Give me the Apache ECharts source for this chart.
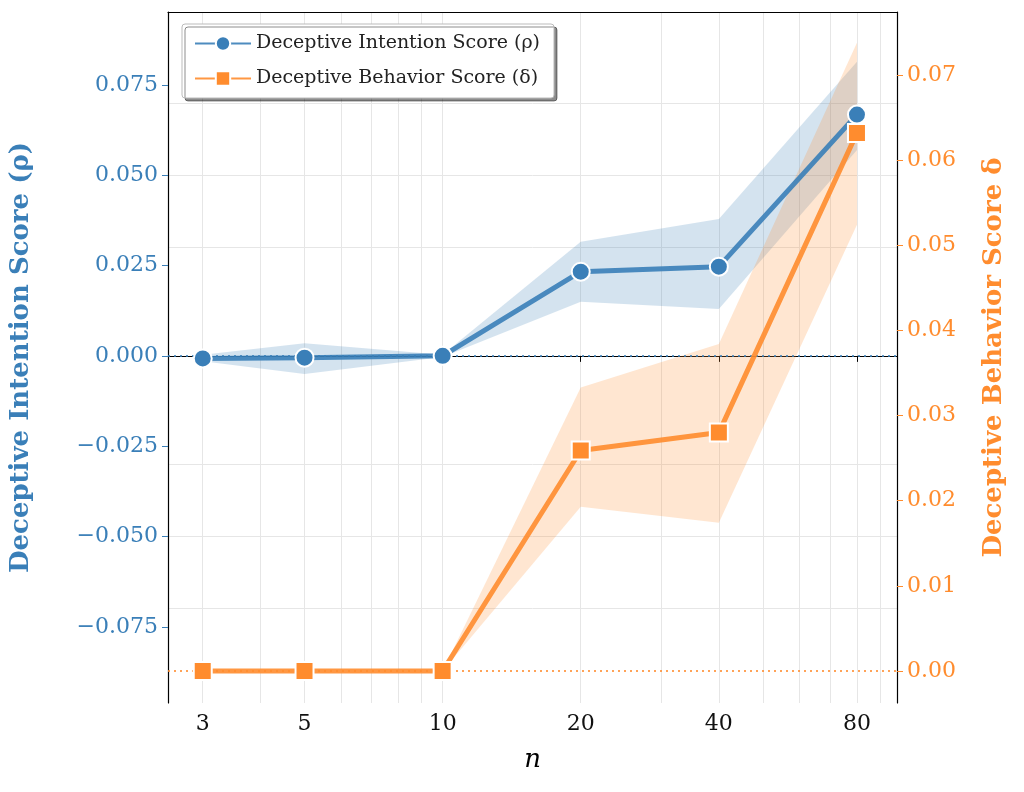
<!DOCTYPE html>
<html><head><meta charset="utf-8">
<script src="https://cdn.jsdelivr.net/npm/echarts@6/dist/echarts.min.js"></script>
<style>html,body{margin:0;background:#fff}#c{width:1024px;height:792px}</style>
</head><body><div id="c"></div>
<script>
const nValues = [3, 5, 10, 20, 40, 80];
const rhoMean = [-0.0007, -0.0005, 0.0000, 0.0233, 0.0247, 0.0668];
const rhoLow  = [-0.0015, -0.0050, -0.0003, 0.0150, 0.0130, 0.0570];
const rhoHigh = [0.0003, 0.0035, 0.0003, 0.0316, 0.0379, 0.0814];
const deltaMean = [0, 0, 0, 0.0259, 0.0280, 0.0632];
const deltaLow  = [0, 0, 0, 0.0193, 0.0174, 0.0524];
const deltaHigh = [0, 0, 0, 0.0333, 0.0384, 0.0738];
const leftTicks = [-0.075, -0.05, -0.025, 0, 0.025, 0.05, 0.075];
const rightTicks = [0, 0.01, 0.02, 0.03, 0.04, 0.05, 0.06, 0.07];
const xMinorGrid = [3,4,5,6,7,8,9,10,20,30,40,50,60,70,80,90];

const BLUE = '#3a7fb8', ORANGE = '#ff8c2e';
const serif = 'DejaVu Serif';
const fmtL = v => (v < 0 ? '\u2212' : '') + Math.abs(v).toFixed(3);
const pair = (xs, ys) => xs.map((x, i) => [x, ys[i]]);
const triple = (xs, lo, hi) => xs.map((x, i) => [x, lo[i], hi[i]]);

function bandSeries(yIdx, lo, hi, color) {
  const data = triple(nValues, lo, hi);
  return {
    type: 'custom', yAxisIndex: yIdx, silent: true, z: 1, data: data,
    encode: {x: 0, y: [1, 2]},
    renderItem: function (params, api) {
      const i = params.dataIndex;
      if (i >= data.length - 1) return null;
      const a = data[i], b = data[i + 1];
      const pts = [api.coord([a[0], a[2]]), api.coord([b[0], b[2]]), api.coord([b[0], b[1]]), api.coord([a[0], a[1]])];
      return {type: 'polygon', shape: {points: pts},
        style: {fill: color, opacity: 0.22, stroke: color, lineWidth: 0.6, strokeOpacity: 0}};
    }
  };
}

const chart = echarts.init(document.getElementById('c'));
chart.setOption({
  animation: false,
  grid: {left: 168, right: 127, top: 12, bottom: 89},
  legend: {
    left: 182, top: 24, orient: 'vertical', itemWidth: 56, itemHeight: 18, itemGap: 16,
    padding: [10, 14, 10, 12], backgroundColor: '#fff', borderColor: '#bbb', borderWidth: 1, borderRadius: 3,
    shadowColor: 'rgba(0,0,0,0.45)', shadowBlur: 0, shadowOffsetX: 3, shadowOffsetY: 3,
    textStyle: {fontFamily: serif, fontSize: 19, color: '#222'},
    data: ['Deceptive Intention Score (ρ)', 'Deceptive Behavior Score (δ)']
  },
  xAxis: [{
    type: 'log', logBase: 10, min: 2.52, max: 97.8,
    name: 'n', nameLocation: 'middle', nameGap: 44,
    nameTextStyle: {fontFamily: serif, fontStyle: 'italic', fontSize: 26, color: '#000'},
    axisLine: {lineStyle: {color: '#000', width: 1.2}},
    axisTick: {customValues: nValues, length: 6, lineStyle: {color: '#000'}},
    minorTick: {show: false},
    axisLabel: {customValues: nValues, formatter: v => String(Math.round(v)), fontFamily: serif, fontSize: 22, color: '#111', margin: 10},
    splitLine: {show: false}
  }, {
    type: 'value', position: 'top', min: 0, max: 1,
    axisLine: {onZero: false, lineStyle: {color: '#000', width: 1.2}},
    axisTick: {show: false}, axisLabel: {show: false}, splitLine: {show: false}
  }],
  yAxis: [{
    type: 'value', min: -0.0961, max: 0.0952,
    name: 'Deceptive Intention Score (ρ)', nameLocation: 'middle', nameGap: 134,
    nameTextStyle: {fontFamily: serif, fontWeight: 'bold', fontSize: 26, color: BLUE},
    axisLine: {show: true, onZero: false, lineStyle: {color: '#000', width: 1.2}},
    axisTick: {show: true, customValues: leftTicks, length: 6, lineStyle: {color: BLUE}},
    axisLabel: {customValues: leftTicks, formatter: fmtL, fontFamily: serif, fontSize: 22, color: BLUE, margin: 10},
    splitLine: {show: false}
  }, {
    type: 'value', min: -0.00376, max: 0.0774, position: 'right',
    name: 'Deceptive Behavior Score δ', nameLocation: 'middle', nameGap: 84, nameRotate: 90,
    nameTextStyle: {fontFamily: serif, fontWeight: 'bold', fontSize: 26, color: ORANGE},
    axisLine: {show: true, onZero: false, lineStyle: {color: '#000', width: 1.2}},
    axisTick: {show: true, customValues: rightTicks, length: 6, lineStyle: {color: ORANGE}},
    axisLabel: {customValues: rightTicks, formatter: v => v.toFixed(2), fontFamily: serif, fontSize: 22, color: ORANGE, margin: 10},
    splitLine: {show: false}
  }],
  series: [
    {type: 'line', name: 'grid', yAxisIndex: 0, data: pair(nValues, rhoMean), silent: true,
     symbol: 'none', lineStyle: {opacity: 0}, z: 0,
     markLine: {silent: true, symbol: 'none', label: {show: false}, z: 0,
       lineStyle: {color: '#e6e6e6', width: 1, type: 'solid'},
       data: xMinorGrid.map(x => ({xAxis: x})).concat(leftTicks.map(y => ({yAxis: y})))}},
    bandSeries(0, rhoLow, rhoHigh, BLUE),
    bandSeries(1, deltaLow, deltaHigh, ORANGE),
    {type: 'line', name: 'Deceptive Intention Score (ρ)', yAxisIndex: 0, data: pair(nValues, rhoMean),
     symbol: 'circle', symbolSize: 18, z: 5,
     lineStyle: {color: BLUE, width: 5, opacity: 0.9},
     itemStyle: {color: BLUE, borderColor: '#fff', borderWidth: 2},
     markLine: {silent: true, symbol: 'none', label: {show: false},
       lineStyle: {color: BLUE, width: 2, type: [2, 4], opacity: 0.8}, data: [{yAxis: 0}]}},
    {type: 'line', name: 'Deceptive Behavior Score (δ)', yAxisIndex: 1, data: pair(nValues, deltaMean),
     symbol: 'rect', symbolSize: 18, z: 5,
     lineStyle: {color: ORANGE, width: 5, opacity: 0.9},
     itemStyle: {color: ORANGE, borderColor: '#fff', borderWidth: 2},
     markLine: {silent: true, symbol: 'none', label: {show: false},
       lineStyle: {color: ORANGE, width: 2, type: [2, 4], opacity: 0.8}, data: [{yAxis: 0}]}}
  ]
});
</script></body></html>
